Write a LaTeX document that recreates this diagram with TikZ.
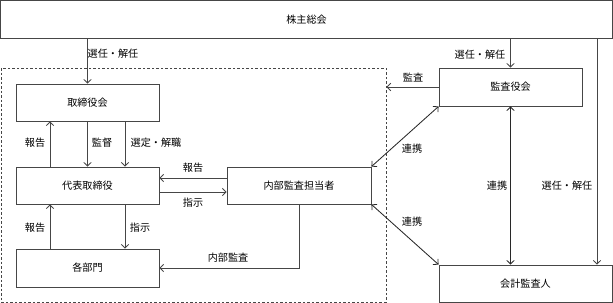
\documentclass[tikz,border=0pt]{standalone}
\usepackage{fontspec}
\setmainfont{Noto Sans CJK JP}
\usetikzlibrary{arrows.meta}

\begin{document}
\begin{tikzpicture}[x=0.025cm, y=-0.025cm, font=\fontsize{7.2}{8.6}\selectfont]
% Styles
\tikzstyle{none} = []
\tikzstyle{box}=[draw={rgb,255: red,70; green,70; blue,70}, shape=rectangle, minimum width=3.575cm, minimum height=0.925cm, inner sep=0cm, line width=0.6pt]
\tikzstyle{frame}=[draw={rgb,255: red,70; green,70; blue,70}, shape=rectangle, dash pattern=on 1.8pt off 1.4pt, line width=0.6pt, inner sep=0cm]
\tikzstyle{arrow}=[draw={rgb,255: red,70; green,70; blue,70}, line width=0.6pt, -{Straight Barb[length=2.6pt, width=5.4pt]}]
\tikzstyle{dblarrow}=[draw={rgb,255: red,40; green,40; blue,40}, line width=0.6pt, {Straight Barb[length=2.6pt, width=5.4pt]}-{Straight Barb[length=2.6pt, width=5.4pt]}]

\useasboundingbox (0,0) rectangle (613,303);

% boxes
\node [style=box, minimum width=15.3cm, minimum height=0.94cm] (1) at (306.5, 19.3) {株主総会};
\node [style=frame, minimum width=9.6125cm, minimum height=5.85cm] (8) at (193.75, 185) {};
\node [style=box] (2) at (87.5, 102.5) {取締役会};
\node [style=box] (3) at (87.5, 185.5) {代表取締役};
\node [style=box, minimum height=0.95cm] (4) at (87.5, 268) {各部門};
\node [style=box, minimum width=3.6cm] (5) at (299, 185.5) {内部監査担当者};
\node [style=box, minimum height=0.95cm] (6) at (510.5, 87) {監査役会};
\node [style=box, minimum width=4.325cm] (7) at (525.5, 283.5) {会計監査人};

% helper points
\node [style=none] (20) at (50, 0) {};
\node [style=none] (21) at (125, 0) {};
\node [style=none] (22) at (597, 0) {};
\node [style=none] (23) at (0, 178) {};
\node [style=none] (24) at (0, 192) {};

% labels
\node [style=none] (30) at (113, 54) {選任・解任};
\node [style=none] (31) at (480, 55) {選任・解任};
\node [style=none] (32) at (567, 186) {選任・解任};
\node [style=none] (33) at (35, 143) {報告};
\node [style=none] (34) at (102, 143) {監督};
\node [style=none] (35) at (156, 143) {選定・解職};
\node [style=none] (36) at (35, 228) {報告};
\node [style=none] (37) at (140, 228) {指示};
\node [style=none] (38) at (193, 168) {報告};
\node [style=none] (39) at (193, 203) {指示};
\node [style=none] (40) at (228, 258) {内部監査};
\node [style=none] (41) at (413, 78) {監査};
\node [style=none] (42) at (412, 149) {連携};
\node [style=none] (43) at (412, 222) {連携};
\node [style=none] (44) at (497, 186) {連携};

\draw [style=arrow] (1.south -| 2.north) to (2.north);
\draw [style=arrow] (1.south -| 6.north) to (6.north);
\draw [style=arrow] (1.south -| 22.center) to (7.north -| 22.center);
\draw [style=arrow] (3.north -| 20.center) to (2.south -| 20.center);
\draw [style=arrow] (2.south) to (3.north);
\draw [style=arrow] (2.south -| 21.center) to (3.north -| 21.center);
\draw [style=arrow] (4.north -| 20.center) to (3.south -| 20.center);
\draw [style=arrow] (3.south -| 21.center) to (4.north -| 21.center);
\draw [style=arrow] (5.west |- 23.center) to (3.east |- 23.center);
\draw [style=arrow] (3.east |- 24.center) to (5.west |- 24.center);
\draw [style=arrow] (5.south) |- (4.east);
\draw [style=arrow] (6.west) to (6.west -| 8.east);
\draw [style=dblarrow] (6.south west) to (5.north east);
\draw [style=dblarrow] (5.south east) to (7.north west);
\draw [style=dblarrow] (6.south) to (6.south |- 7.north);
\end{tikzpicture}
\end{document}
